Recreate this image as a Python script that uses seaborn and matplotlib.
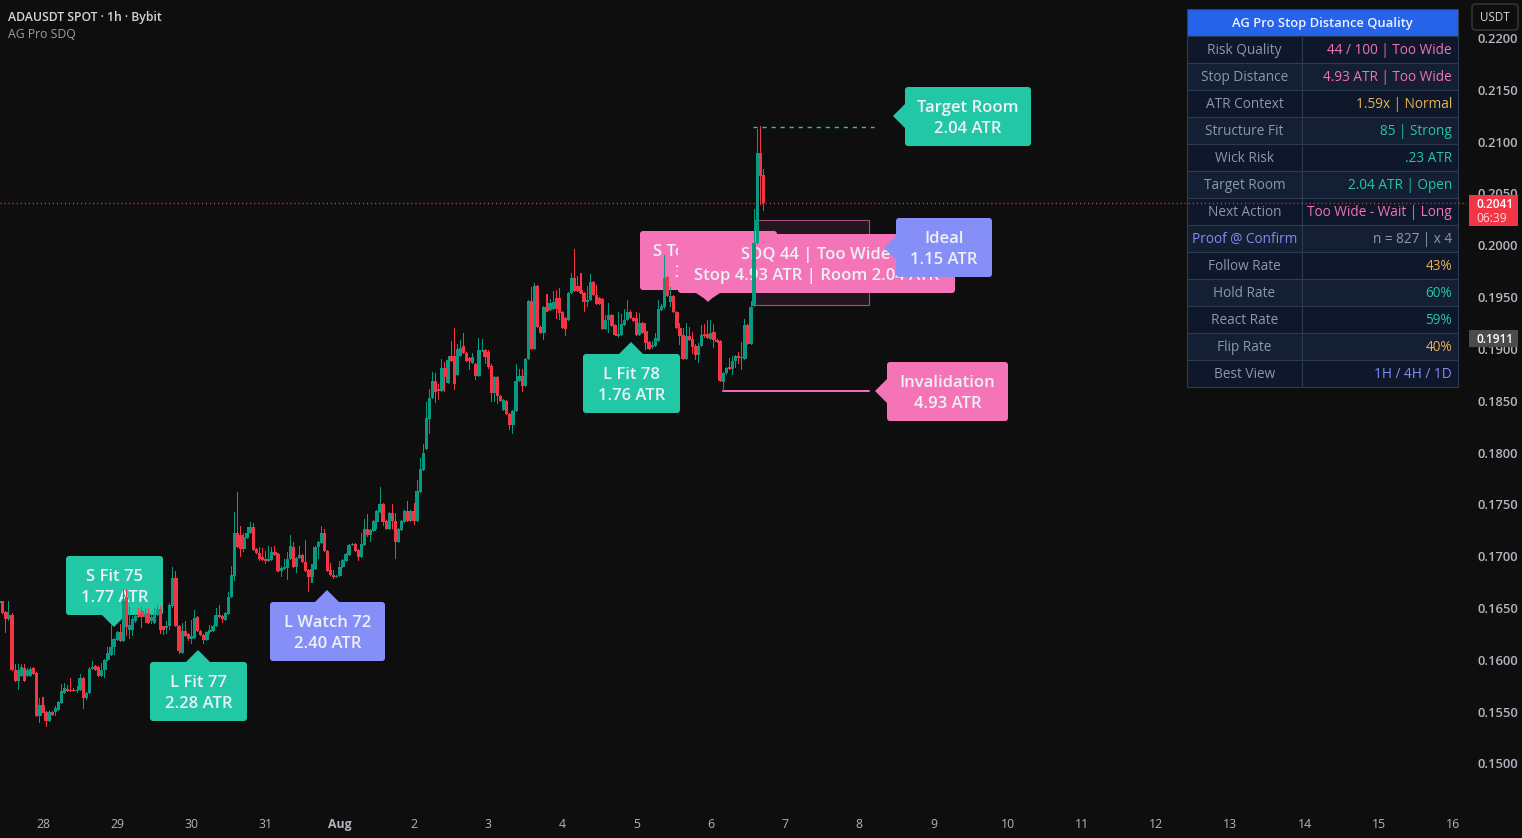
import numpy as np
import pandas as pd
import matplotlib.pyplot as plt
import seaborn as sns
from matplotlib.patches import FancyBboxPatch, Polygon, Rectangle
from matplotlib.transforms import Affine2D

# hourly candles, price in 0.0001 USDT, bar 0 = 28 Jul 00:00
first_bar = -14
opens = [1655,1657,1646,1639,1643,1590,1580,1584,1592,1584,1584,1592,1587,1546,
1556,1550,1541,1550,1550,1552,1558,1568,1572,1571,1571,1570,1571,1582,1563,1568,1591,1594,1593,1584,1590,1600,1605,1612,1619,1627,
1618,1661,1629,1629,1637,1644,1647,1641,1645,1637,1636,1643,1649,1633,1631,1633,1652,1679,1633,1607,1628,1625,1620,1621,
1641,1628,1624,1619,1627,1628,1633,1643,1642,1638,1644,1661,1681,1722,1720,1707,1718,1722,1728,1707,1703,1699,1697,1695,
1696,1704,1702,1686,1688,1689,1697,1709,1690,1698,1701,1694,1687,1680,1688,1709,1713,1722,1705,1687,1682,1680,1681,1690,
1695,1701,1711,1712,1706,1699,1711,1726,1720,1724,1733,1743,1750,1734,1726,1742,1734,1714,1725,1733,1744,1734,1744,1734,
1762,1783,1803,1832,1853,1869,1861,1859,1882,1867,1893,1893,1875,1893,1903,1896,1891,1886,1885,1874,1898,1899,1897,1884,
1857,1873,1855,1841,1850,1837,1827,1840,1869,1874,1864,1890,1946,1900,1961,1921,1915,1940,1938,1939,1949,1949,1936,1930,
1928,1954,1968,1961,1957,1954,1945,1947,1965,1952,1949,1948,1919,1928,1933,1923,1912,1913,1923,1928,1936,1930,1930,1913,
1925,1917,1907,1902,1903,1908,1938,1940,1969,1945,1951,1936,1920,1913,1890,1912,1910,1903,1894,1903,1914,1914,1910,1916,
1909,1908,1868,1877,1883,1881,1888,1893,1892,1890,1923,1905,1941,2002,2089,2068]
highs = [1658,1657,1647,1657,1645,1596,1596,1596,1596,1592,1593,1593,1588,1563,
1564,1551,1552,1551,1555,1560,1577,1578,1576,1582,1573,1575,1586,1583,1569,1593,1599,1595,1594,1597,1601,1612,1634,1621,1628,1635,
1668,1668,1651,1642,1644,1650,1651,1650,1650,1644,1650,1653,1652,1633,1637,1655,1690,1686,1634,1636,1637,1626,1638,1648,
1642,1629,1625,1628,1634,1634,1650,1653,1643,1646,1665,1691,1743,1762,1729,1722,1728,1733,1732,1708,1709,1708,1705,1710,
1709,1710,1703,1691,1697,1704,1720,1714,1699,1710,1702,1716,1688,1692,1710,1715,1729,1726,1706,1693,1687,1682,1695,1697,
1703,1712,1713,1713,1707,1722,1736,1741,1726,1735,1745,1767,1751,1735,1743,1750,1742,1727,1735,1745,1753,1745,1751,1774,
1795,1808,1849,1861,1878,1877,1866,1890,1887,1893,1908,1920,1905,1909,1915,1897,1892,1896,1886,1911,1910,1900,1899,1885,
1874,1874,1856,1852,1851,1838,1841,1885,1881,1881,1891,1947,1960,1964,1962,1922,1941,1953,1948,1956,1957,1959,1937,1931,
1955,1973,1996,1970,1973,1955,1961,1972,1966,1962,1950,1949,1933,1944,1934,1924,1936,1934,1939,1947,1938,1931,1936,1935,
1926,1925,1908,1908,1915,1947,1943,1991,1970,1960,1952,1937,1925,1920,1925,1921,1916,1905,1906,1923,1924,1928,1928,1924,
1910,1909,1878,1883,1891,1893,1894,1897,1907,1929,1924,1946,2035,2112,2115,2074]
lows = [1654,1644,1626,1637,1589,1579,1571,1583,1579,1583,1583,1585,1545,1539,
1549,1535,1540,1546,1546,1551,1557,1567,1569,1569,1569,1568,1570,1553,1561,1567,1590,1589,1583,1583,1582,1599,1604,1605,1618,1617,
1617,1623,1620,1623,1636,1640,1631,1636,1635,1635,1635,1642,1625,1624,1625,1629,1650,1632,1606,1606,1622,1618,1615,1620,
1627,1623,1615,1618,1625,1627,1632,1640,1636,1637,1643,1660,1676,1708,1699,1704,1717,1721,1705,1702,1695,1695,1692,1694,
1695,1700,1685,1680,1687,1677,1696,1689,1684,1697,1693,1685,1665,1674,1687,1697,1712,1704,1685,1681,1678,1679,1680,1689,
1694,1700,1710,1704,1695,1698,1710,1719,1714,1723,1726,1742,1729,1725,1725,1726,1697,1713,1724,1732,1733,1733,1730,1733,
1761,1782,1802,1818,1852,1848,1851,1858,1858,1866,1887,1860,1874,1892,1895,1887,1880,1885,1870,1873,1897,1885,1881,1849,
1849,1847,1849,1840,1836,1822,1818,1839,1868,1858,1863,1889,1899,1899,1920,1914,1909,1936,1937,1938,1929,1928,1919,1912,
1927,1953,1955,1955,1953,1936,1940,1946,1951,1942,1942,1918,1918,1915,1921,1912,1911,1912,1922,1927,1929,1926,1912,1912,
1914,1899,1899,1900,1902,1907,1937,1939,1950,1940,1935,1919,1904,1889,1889,1908,1895,1889,1886,1902,1911,1910,1909,1901,
1906,1868,1859,1875,1880,1875,1882,1885,1880,1889,1904,1904,1940,2001,2039,2033]
closes = [1657,1645,1639,1643,1590,1580,1590,1593,1580,1590,1591,1586,1546,1556,
1550,1541,1550,1547,1554,1559,1570,1573,1570,1570,1570,1571,1582,1563,1568,1591,1593,1590,1584,1590,1600,1607,1612,1620,1627,1618,
1657,1632,1634,1639,1642,1641,1641,1644,1636,1641,1644,1649,1629,1629,1633,1653,1679,1633,1609,1628,1623,1620,1623,1640,
1628,1624,1619,1627,1629,1633,1643,1641,1639,1645,1661,1682,1722,1709,1707,1719,1722,1728,1706,1703,1697,1696,1695,1697,
1704,1701,1686,1689,1689,1697,1710,1690,1698,1701,1694,1686,1680,1688,1709,1714,1722,1705,1686,1682,1680,1681,1690,1696,
1702,1711,1712,1705,1699,1712,1726,1720,1725,1734,1744,1750,1733,1726,1742,1734,1714,1726,1734,1744,1734,1744,1734,1763,
1784,1800,1833,1853,1869,1858,1859,1882,1873,1889,1888,1866,1900,1901,1896,1888,1888,1892,1874,1899,1899,1892,1883,1857,
1873,1855,1850,1851,1837,1827,1840,1869,1874,1864,1890,1946,1900,1961,1921,1915,1940,1937,1944,1945,1939,1935,1920,1919,
1954,1968,1956,1956,1954,1945,1947,1965,1952,1943,1943,1919,1928,1933,1922,1913,1914,1924,1928,1936,1930,1927,1913,1925,
1915,1906,1900,1904,1911,1939,1941,1968,1951,1951,1936,1920,1912,1890,1912,1909,1902,1894,1903,1913,1912,1911,1915,1909,
1907,1869,1877,1882,1881,1888,1893,1891,1891,1923,1905,1940,2002,2089,2067,2041]

price_ticks = [0.2200,0.2150,0.2100,0.2050,0.2000,0.1950,0.1900,0.1850,0.1800,0.1750,0.1700,0.1650,0.1600,0.1550,0.1500]
day_bars = [24*k for k in range(20)]
day_labels = ['28','29','30','31','Aug','2','3','4','5','6','7','8','9','10','11','12','13','14','15','16']

target_price = 0.2114
stop_price = 0.1859
zone_top = 0.2024
zone_bottom = 0.1942

table_rows = ['Risk Quality','Stop Distance','ATR Context','Structure Fit','Wick Risk','Target Room','Next Action',
              'Proof @ Confirm','Follow Rate','Hold Rate','React Rate','Flip Rate','Best View']
table_vals = ['44 / 100 | Too Wide','4.93 ATR | Too Wide','1.59x | Normal','85 | Strong','.23 ATR','2.04 ATR | Open',
              'Too Wide - Wait | Long','n = 827 | x 4','43%','60%','59%','40%','1H / 4H / 1D']
PINK, AMBER, TEAL, INDIGO, SLATE = '#f472b6', '#e9b44c', '#22c7a5', '#818cf8', '#8b98aa'
table_cols = [PINK,PINK,AMBER,TEAL,TEAL,TEAL,PINK,SLATE,AMBER,TEAL,TEAL,AMBER,INDIGO]

WIDTH, HEIGHT = 1522, 838
BG = '#0e0e0f'
UP, DOWN = '#089981', '#f23645'
TICK = '#b2b5be'

sns.set_theme(style='dark', rc={'axes.facecolor': BG, 'figure.facecolor': BG})
plt.rcParams['font.family'] = ['Open Sans', 'DejaVu Sans']

fig = plt.figure(figsize=(WIDTH/100, HEIGHT/100), dpi=100)
ax = fig.add_axes([0, 28/HEIGHT, 1467/WIDTH, 810/HEIGHT])
px = Affine2D().scale(1, -1).translate(0, HEIGHT)   # screen pixels, y down

df = pd.DataFrame({'o': opens, 'h': highs, 'l': lows, 'c': closes}) / 10000
df['bar'] = np.arange(len(df)) + first_bar
df['top'] = df[['o', 'c']].max(axis=1)
df['bot'] = df[['o', 'c']].min(axis=1)

for col, part in [(UP, df[df.c >= df.o]), (DOWN, df[df.c < df.o])]:
    sns.barplot(x=part.bar.values, y=(part.h-part.l).values, bottom=part.l.values, native_scale=True,
                width=0.33, color=col, saturation=1, errorbar=None, linewidth=0, antialiased=False, zorder=3, ax=ax)
    sns.barplot(x=part.bar.values, y=(part.top-part.bot).clip(lower=0.00012).values, bottom=part.bot.values,
                native_scale=True, width=1.08, color=col, saturation=1, errorbar=None, linewidth=0, antialiased=False, zorder=3, ax=ax)

# axes scale: 3.092 px per bar, bar 0 at x=43; 0.2200 at y=38, 0.1500 at y=763.5
ax.set_xlim(-43/3.092, (1467-43)/3.092)
ax.set_ylim(0.22-(810-38)*0.005/51.82, 0.22+38*0.005/51.82)
ax.set_xticks(day_bars, day_labels)
ax.yaxis.tick_right()
ax.set_yticks(price_ticks, [f'{p:.4f}' for p in price_ticks])
ax.tick_params(axis='x', length=0, pad=5.5, colors=TICK, labelsize=8.8)
ax.tick_params(axis='y', length=0, pad=7.5, colors=TICK, labelsize=9.4)
ax.grid(False)
for s in ax.spines.values():
    s.set_visible(False)
for t in ax.get_xticklabels():
    t.set_fontweight('bold' if t.get_text() == 'Aug' else 'medium')
for t in ax.get_yticklabels():
    t.set_fontweight('semibold')

# zone and level lines
ax.add_patch(Rectangle((230.2, zone_bottom), 36.9, zone_top-zone_bottom, fc='#23161f', ec='#a84e7c', lw=0.8, zorder=1))
ax.plot([229.6, 268.6], [target_price]*2, color=TEAL, lw=1, dashes=(3, 3.5), zorder=2)
ax.plot([220, 267.1], [stop_price]*2, color=PINK, lw=1.4, zorder=2)
ax.axhline(0.2041, color=DOWN, lw=1, dashes=(0.8, 2.1), zorder=7)


def label(x0, y0, x1, y1, lines, fc, tip, cx=None, z=2):
    ax.add_patch(FancyBboxPatch((x0, y0), x1-x0, y1-y0, boxstyle='round,pad=0,rounding_size=3', fc=fc, ec='none',
                                transform=px, zorder=z, clip_on=False))
    ax.add_patch(Polygon(tip, fc=fc, ec='none', transform=px, zorder=z, clip_on=False))
    cx = (x0+x1)/2 if cx is None else cx
    mid = (y0+y1)/2
    for k, s in enumerate(lines):
        ax.text(cx, mid+2+(k-0.5)*20.5, s, color='#eef2f7', fontsize=12.0, fontweight='semibold', ha='center', va='center',
                transform=px, zorder=z+0.01, clip_on=False)


GREEN_BOX, BLUE_BOX, PINK_BOX = '#22c7a5', '#868ef8', '#f574b8'
label(66, 556, 163, 615, ['S Fit 75', '1.77 ATR'], GREEN_BOX, [(102, 615), (126, 615), (114, 627)])
label(150, 662, 247, 721, ['L Fit 77', '2.28 ATR'], GREEN_BOX, [(186, 662), (210, 662), (198, 650)])
label(270, 602, 385, 661, ['L Watch 72', '2.40 ATR'], BLUE_BOX, [(315, 602), (339, 602), (327, 590)])
label(583, 354, 680, 413, ['L Fit 78', '1.76 ATR'], GREEN_BOX, [(619, 354), (643, 354), (631, 342)])
label(640, 231, 777, 290, ['S Too Wide 62', '3.12 ATR'], PINK_BOX, [(696, 290), (720, 290), (708, 302)], z=2)
label(678, 234, 955, 293, ['SDQ 44 | Too Wide', 'Stop 4.93 ATR | Room 2.04 ATR'], PINK_BOX,
      [(696, 293), (720, 293), (708, 301)], cx=816, z=2.1)
label(905, 87, 1031, 146, ['Target Room', '2.04 ATR'], GREEN_BOX, [(905, 104), (905, 128), (893, 116)])
label(896, 218, 992, 277, ['Ideal', '1.15 ATR'], BLUE_BOX, [(896, 236), (896, 260), (884, 248)], z=2.2)
label(887, 362, 1008, 421, ['Invalidation', '4.93 ATR'], PINK_BOX, [(887, 379), (887, 403), (875, 391)])

# stats table
TX0, TXM, TX1, TY0 = 1187, 1302, 1458, 9
ROW = 27
ax.add_patch(Rectangle((TX0, TY0), TX1-TX0, ROW, fc='#2563eb', ec='#334155', lw=0.8, transform=px, zorder=5, clip_on=False))
ax.text((TX0+TX1)/2, TY0+ROW/2+1, 'AG Pro Stop Distance Quality', color='#eef2ff', fontsize=9.4, fontweight='semibold',
        ha='center', va='center', transform=px, zorder=6, clip_on=False)
for k, (name, val, col) in enumerate(zip(table_rows, table_vals, table_cols)):
    y = TY0+ROW*(k+1)
    fill = '#0f172a' if k % 2 == 0 else '#141f33'
    ax.add_patch(Rectangle((TX0, y), TXM-TX0, ROW, fc=fill, ec='#2d3b50', lw=0.8, transform=px, zorder=5, clip_on=False))
    ax.add_patch(Rectangle((TXM, y), TX1-TXM, ROW, fc=fill, ec='#2d3b50', lw=0.8, transform=px, zorder=5, clip_on=False))
    name_col = INDIGO if name.startswith('Proof') else SLATE
    ax.text((TX0+TXM)/2, y+ROW/2+1, name, color=name_col, fontsize=9.8, ha='center', va='center', transform=px, zorder=6, clip_on=False)
    ax.text(TX1-6, y+ROW/2+1, val, color=col, fontsize=9.8, ha='right', va='center', transform=px, zorder=6, clip_on=False)

# header text and price tags
ax.text(8, 17, 'ADAUSDT SPOT · 1h · Bybit', color='#d1d4dc', fontsize=8.8, fontweight='semibold', va='center', transform=px, clip_on=False)
ax.text(8, 34, 'AG Pro SDQ', color='#9a9ea8', fontsize=8.8, va='center', transform=px, clip_on=False)
ax.add_patch(FancyBboxPatch((1472, 4), 46, 26, boxstyle='round,pad=0,rounding_size=4', fc=BG, ec='#2e2e2e', lw=1.4,
                            transform=px, zorder=8, clip_on=False))
ax.text(1495, 17, 'USDT', color='#d1d4dc', fontsize=8.4, ha='center', va='center', transform=px, zorder=9, clip_on=False)
ax.add_patch(Rectangle((1469, 195), 49, 31, fc=DOWN, ec='none', transform=px, zorder=8, clip_on=False))
ax.text(1495, 204, '0.2041', color='white', fontsize=8.6, fontweight='semibold', ha='center', va='center', transform=px, zorder=9, clip_on=False)
ax.text(1492, 218, '06:39', color='#fbdde0', fontsize=8.6, ha='center', va='center', transform=px, zorder=9, clip_on=False)
ax.add_patch(Rectangle((1469, 330), 49, 17, fc='#4b4b4b', ec='none', transform=px, zorder=8, clip_on=False))
ax.text(1495, 339, '0.1911', color='white', fontsize=8.6, fontweight='semibold', ha='center', va='center', transform=px, zorder=9, clip_on=False)

fig.savefig('out.png', dpi=100, facecolor=BG)
